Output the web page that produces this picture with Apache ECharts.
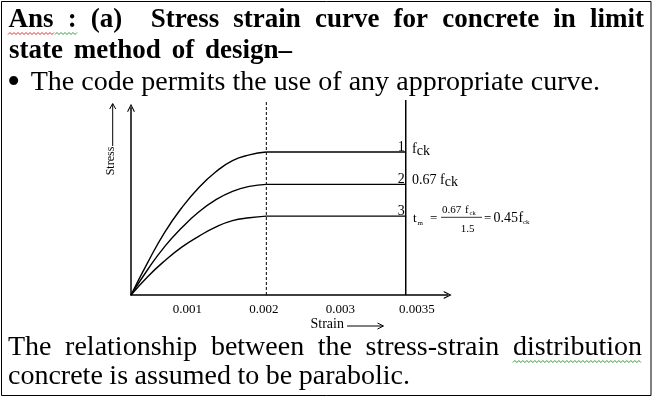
<!DOCTYPE html>
<html>
<head>
<meta charset="utf-8">
<script src="https://cdn.jsdelivr.net/npm/echarts@6/dist/echarts.min.js"></script>
<style>
html, body { margin: 0; padding: 0; background: #fff; }
#chart { width: 653px; height: 398px; }
</style>
</head>
<body>
<div id="chart"></div>
<script>
// strain points along the rising parabolic part
var strainPts = [0, 0.00025, 0.0005, 0.00075, 0.001, 0.00125, 0.0015, 0.00175, 0.002];
// stress, as drawn, relative to the top curve (fck = 1)
var stressCurve1 = [0, 0.23, 0.44, 0.61, 0.75, 0.86, 0.94, 0.98, 1.00];
var stressCurve2 = [0, 0.18, 0.34, 0.47, 0.58, 0.665, 0.725, 0.76, 0.774];
var stressCurve3 = [0, 0.13, 0.24, 0.335, 0.41, 0.475, 0.52, 0.54, 0.552];
var curveNames = ['1', '2', '3'];
var strainPeak = 0.002;
var strainLimitDrawn = 0.00406; // where the 0.0035 line sits in the sketch
var tickLabels = ['0.001', '0.002', '0.003', '0.0035'];
var xMax = 0.00468;
var yMax = 1.31;
var lineTop = 1.364;

var FONT = '"Liberation Serif", "Times New Roman", serif';
var ARROW = 'path://M0,10 L5,0 L10,10 L8.5,10 L5,3 L1.5,10 Z';

var measureCtx = document.createElement('canvas').getContext('2d');

function txt(x, baseline, str, size, weight, align) {
	return {
		type : 'text',
		x : x,
		y : baseline - 0.34 * size,
		silent : true,
		style : {
			text : str,
			fill : '#000',
			fontSize : size,
			fontFamily : FONT,
			fontWeight : weight || 'normal',
			align : align || 'left',
			verticalAlign : 'middle'
		}
	};
}

// lay words out between x0 and x1, spreading the gaps (like a justified line)
function justify(words, gaps, x0, x1, baseline, size, weight) {
	measureCtx.font = (weight || 'normal') + ' ' + size + 'px ' + FONT;
	var widths = [], total = 0, wsum = 0;
	for (var i = 0; i < words.length; i++) {
		widths.push(measureCtx.measureText(words[i]).width);
		total += widths[i];
	}
	for (var j = 0; j < gaps.length; j++) {
		wsum += gaps[j];
	}
	var unit = (x1 - x0 - total) / wsum;
	var x = x0, els = [];
	for (var k = 0; k < words.length; k++) {
		els.push(txt(x, baseline, words[k], size, weight));
		x += widths[k] + (k < gaps.length ? gaps[k] * unit : 0);
	}
	return els;
}

function ones(n) {
	var a = [];
	for (var i = 0; i < n; i++) a.push(1);
	return a;
}

function wave(x0, x1, y, color) {
	var pts = [];
	for (var x = x0, k = 0; x <= x1; x += 2, k++) {
		pts.push([x, y + (k % 2 ? -1 : 1)]);
	}
	return {
		type : 'polyline',
		silent : true,
		shape : { points : pts },
		style : { stroke : color, lineWidth : 1, fill : 'none' }
	};
}

function seg(points, width) {
	return {
		type : 'polyline',
		silent : true,
		shape : { points : points },
		style : { stroke : '#000', lineWidth : width || 1, fill : 'none' }
	};
}

var graphics = [];
graphics.push({
	type : 'rect',
	silent : true,
	shape : { x : 1.5, y : 1.5, width : 649.5, height : 394 },
	style : { fill : 'none', stroke : '#000', lineWidth : 1 }
});

// heading text
graphics = graphics.concat(justify(
		[ 'Ans', ':', '(a)', 'Stress', 'strain', 'curve', 'for', 'concrete', 'in', 'limit' ],
		[ 1, 1, 2, 1, 1, 1, 1, 1, 1 ], 8.5, 644, 29.5, 27, 'bold'));
graphics = graphics.concat(justify(
		[ 'state', 'method', 'of', 'design–' ], ones(3), 9, 292, 60.7, 27, 'bold'));
graphics.push({
	type : 'text',
	x : 7,
	y : 84,
	silent : true,
	style : {
		text : '•',
		fill : '#000',
		fontSize : 38,
		fontFamily : FONT,
		verticalAlign : 'middle'
	}
});
graphics = graphics.concat(justify(
		[ 'The', 'code', 'permits', 'the', 'use', 'of', 'any', 'appropriate', 'curve.' ],
		ones(8), 30.7, 600, 91.7, 28));
graphics.push(wave(8, 55, 33.5, '#e0302a'));
graphics.push(wave(55, 77, 33.5, '#2e9a3a'));

// closing text
var lastLine = [ 'The', 'relationship', 'between', 'the', 'stress-strain', 'distribution' ];
graphics = graphics.concat(justify(lastLine, ones(5), 8, 642, 357.3, 28));
graphics = graphics.concat(justify(
		[ 'concrete', 'is', 'assumed', 'to', 'be', 'parabolic.' ], ones(5), 8, 410, 386, 28));
measureCtx.font = '28px ' + FONT;
var distW = measureCtx.measureText('distribution').width;
graphics.push(wave(642 - distW, 642, 361.5, '#2e9a3a'));

// axis titles with little arrows
graphics.push({
	type : 'text',
	x : 111,
	y : 161,
	rotation : Math.PI / 2,
	silent : true,
	style : {
		text : 'Stress',
		fill : '#000',
		fontSize : 12,
		fontFamily : FONT,
		align : 'center',
		verticalAlign : 'middle'
	}
});
graphics.push(seg([ [ 112.7, 146 ], [ 112.7, 104 ] ]));
graphics.push(seg([ [ 109.7, 109 ], [ 112.7, 103.5 ], [ 115.7, 109 ] ]));
graphics.push(txt(310.5, 329.5, 'Strain', 14));
graphics.push(seg([ [ 347, 326 ], [ 383, 326 ] ]));
graphics.push(seg([ [ 377.5, 323 ], [ 383.5, 326 ], [ 377.5, 329 ] ]));

// right-hand notes
graphics.push(txt(412, 154, 'f', 14));
graphics.push(txt(416.7, 156.5, 'ck', 14));
graphics.push(txt(412, 185, '0.67', 14));
graphics.push(txt(440, 185, 'f', 14));
graphics.push(txt(444.7, 187.5, 'ck', 14));
graphics.push(txt(413, 222.7, 't', 13));
graphics.push(txt(417.5, 226, 'm', 7));
graphics.push(txt(430, 223, '=', 13));
graphics.push(txt(442, 214.3, '0.67', 11));
graphics.push(txt(465, 214.3, 'f', 11));
graphics.push(txt(469.5, 215.3, 'ck', 6.5));
graphics.push(seg([ [ 441, 217.3 ], [ 482, 217.3 ] ], 0.8));
graphics.push(txt(467.5, 233, '1.5', 11, 'normal', 'center'));
graphics.push(txt(484, 223, '=', 13));
graphics.push(txt(493.5, 223.3, '0.45', 14));
graphics.push(txt(518.5, 223.3, 'f', 14));
graphics.push(txt(523, 224.5, 'ck', 7));

function pairs(xs, ys) {
	var out = [];
	for (var i = 0; i < xs.length; i++) {
		out.push([ xs[i], ys[i] ]);
	}
	return out;
}

var blackLine = { color : '#000', width : 1.4 };
var series = [];
var curves = [ stressCurve1, stressCurve2, stressCurve3 ];
for (var c = 0; c < curves.length; c++) {
	var peak = curves[c][curves[c].length - 1];
	series.push({
		type : 'line',
		data : pairs(strainPts, curves[c]),
		smooth : 0.5,
		showSymbol : false,
		silent : true,
		lineStyle : blackLine
	});
	series.push({
		type : 'line',
		symbol : 'circle',
		symbolSize : 0,
		showSymbol : true,
		silent : true,
		lineStyle : blackLine,
		data : [ [ strainPeak, peak ], {
			value : [ strainLimitDrawn, peak ],
			label : {
				show : true,
				formatter : curveNames[c],
				position : 'top',
				align : 'right',
				distance : 0,
				offset : [ -1, 2 ],
				fontSize : 14,
				fontFamily : FONT,
				color : '#000'
			}
		} ]
	});
}
series.push({
	type : 'line',
	data : [ [ strainPeak, 0 ], [ strainPeak, lineTop ] ],
	clip : false,
	showSymbol : false,
	silent : true,
	lineStyle : { color : '#000', width : 1, type : [ 3, 2 ] }
});
series.push({
	type : 'line',
	data : [ [ strainLimitDrawn, 0 ], [ strainLimitDrawn, lineTop ] ],
	clip : false,
	showSymbol : false,
	silent : true,
	lineStyle : { color : '#000', width : 1.5 }
});

var chart = echarts.init(document.getElementById('chart'), null, { renderer : 'canvas' });
chart.setOption({
	animation : false,
	backgroundColor : '#fff',
	grid : [ {
		left : 131, top : 107.7, width : 316.7, height : 187.3
	}, {
		left : 149, top : 107.7, width : 306, height : 187.3
	} ],
	xAxis : [ {
		type : 'value',
		gridIndex : 0,
		min : 0,
		max : xMax,
		axisLine : {
			show : true,
			symbol : [ 'none', ARROW ],
			symbolSize : [ 8, 8 ],
			lineStyle : { color : '#000', width : 1.5 }
		},
		axisTick : { show : false },
		axisLabel : { show : false },
		splitLine : { show : false }
	}, {
		type : 'category',
		gridIndex : 1,
		data : tickLabels,
		axisLine : { show : false },
		axisTick : { show : false },
		axisLabel : {
			margin : 8,
			fontSize : 13,
			fontFamily : FONT,
			color : '#000'
		},
		splitLine : { show : false }
	} ],
	yAxis : [ {
		type : 'value',
		gridIndex : 0,
		min : 0,
		max : yMax,
		axisLine : {
			show : true,
			symbol : [ 'none', ARROW ],
			symbolSize : [ 8, 8 ],
			lineStyle : { color : '#000', width : 1.5 }
		},
		axisTick : { show : false },
		axisLabel : { show : false },
		splitLine : { show : false }
	}, {
		type : 'value',
		gridIndex : 1,
		show : false
	} ],
	series : series,
	graphic : graphics
});
</script>
</body>
</html>
